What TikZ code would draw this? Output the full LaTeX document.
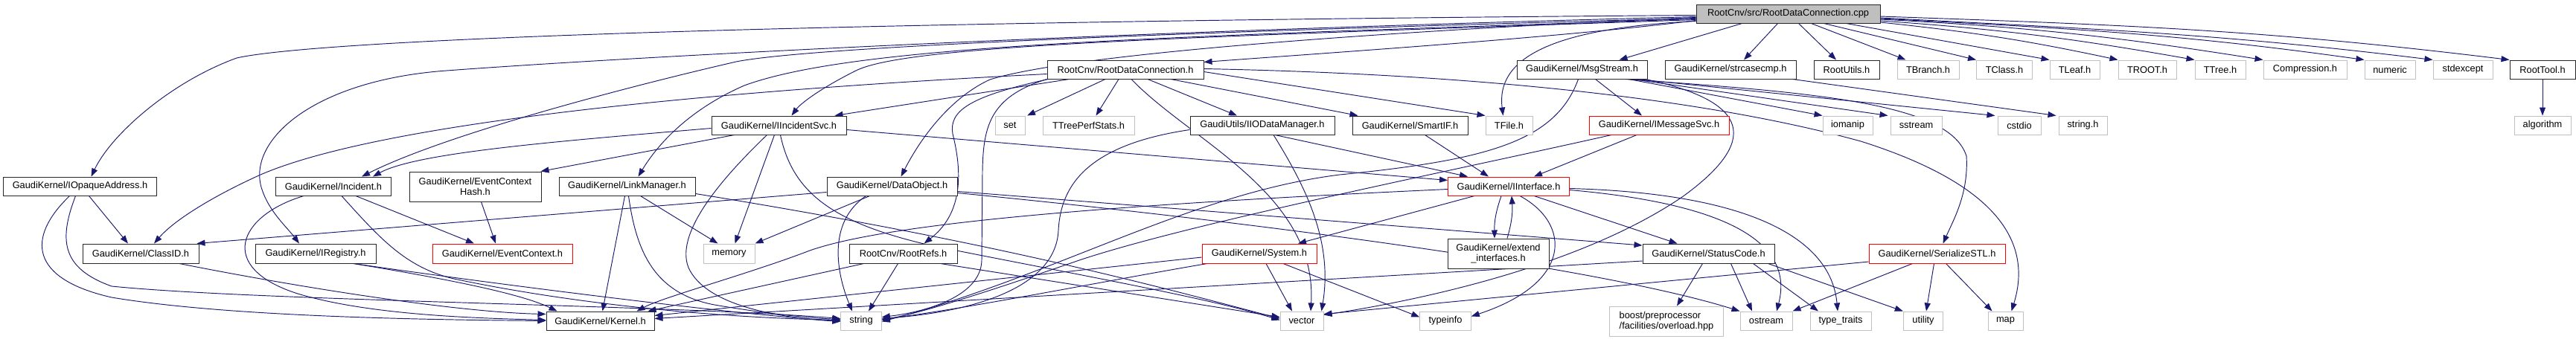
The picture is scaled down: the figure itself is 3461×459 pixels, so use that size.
\documentclass[tikz,border=0pt]{standalone}
\usepackage{fontspec}
\setmainfont{Liberation Sans}
\usetikzlibrary{arrows.meta}
\definecolor{mblue}{HTML}{191970}
\definecolor{rootgray}{HTML}{BFBFBF}
\definecolor{lgray}{HTML}{C0C0C0}
\pgfdeclarelayer{bg}
\pgfsetlayers{bg,main}
\tikzset{
  filebox/.style={draw=black!85, line width=1pt, fill=white, inner sep=0pt, align=center,
    font=\fontsize{12.8}{14.5}\selectfont, minimum height=25pt},
  sysbox/.style={filebox, draw=lgray},
  redbox/.style={filebox, draw=red},
  rootbox/.style={filebox, fill=rootgray},
  dep/.style={draw=mblue, line width=0.95pt, -{Triangle[length=11pt,width=8pt]}},
}
\begin{document}
\begin{tikzpicture}[x=1pt,y=-1pt]
\useasboundingbox (0,0) rectangle (3461,459);
% ---- row 1
\node[rootbox, minimum width=247pt] (root) at (2402.5,18.5) {RootCnv/src/RootDataConnection.cpp};
% ---- row 2
\node[filebox, minimum width=210pt] (rdc) at (1512,93.5) {RootCnv/RootDataConnection.h};
\node[filebox, minimum width=175pt] (msg) at (2125.5,93.5) {GaudiKernel/MsgStream.h};
\node[filebox, minimum width=176pt] (strc) at (2325,93.5) {GaudiKernel/strcasecmp.h};
\node[filebox, minimum width=88pt] (ru) at (2481,93.5) {RootUtils.h};
\node[sysbox, minimum width=83pt] (tbr) at (2590.5,93.5) {TBranch.h};
\node[sysbox, minimum width=75pt] (tcl) at (2693,93.5) {TClass.h};
\node[sysbox, minimum width=67pt] (tleaf) at (2787.5,93.5) {TLeaf.h};
\node[sysbox, minimum width=78pt] (troot) at (2885,93.5) {TROOT.h};
\node[sysbox, minimum width=68pt] (ttree) at (2983,93.5) {TTree.h};
\node[sysbox, minimum width=112pt] (compr) at (3097,93.5) {Compression.h};
\node[sysbox, minimum width=68pt] (numeric) at (3211,93.5) {numeric};
\node[sysbox, minimum width=80pt] (stdexc) at (3309,93.5) {stdexcept};
\node[filebox, minimum width=88pt] (rtool) at (3416,93.5) {RootTool.h};
% ---- row 3
\node[filebox, minimum width=181pt] (iis) at (1046.5,168.5) {GaudiKernel/IIncidentSvc.h};
\node[sysbox, minimum width=40pt] (set) at (1357,168.5) {set};
\node[sysbox, minimum width=123pt] (ttps) at (1462.5,168.5) {TTreePerfStats.h};
\node[filebox, minimum width=194pt] (iio) at (1696,168.5) {GaudiUtils/IIODataManager.h};
\node[filebox, minimum width=155pt] (smart) at (1894.5,168.5) {GaudiKernel/SmartIF.h};
\node[sysbox, minimum width=63pt] (tfile) at (2027.5,168.5) {TFile.h};
\node[redbox, minimum width=188pt] (imsg) at (2229,168.5) {GaudiKernel/IMessageSvc.h};
\node[sysbox, minimum width=67pt] (iomanip) at (2482.5,168.5) {iomanip};
\node[sysbox, minimum width=69pt] (sstream) at (2574.5,168.5) {sstream};
\node[sysbox, minimum width=58pt] (cstdio) at (2713,168.5) {cstdio};
\node[sysbox, minimum width=65pt] (stringh) at (2798.5,168.5) {string.h};
\node[sysbox, minimum width=76pt] (algo) at (3416,168.5) {algorithm};
% ---- row 4
\node[filebox, minimum width=206pt] (ioa) at (107.5,250.5) {GaudiKernel/IOpaqueAddress.h};
\node[filebox, minimum width=155pt] (inc) at (448,250.5) {GaudiKernel/Incident.h};
\node[filebox, minimum width=177pt, minimum height=40pt] (ech) at (638.5,251) {GaudiKernel/EventContext\\Hash.h};
\node[filebox, minimum width=183pt] (lm) at (842.5,250.5) {GaudiKernel/LinkManager.h};
\node[filebox, minimum width=175pt] (dobj) at (1198.5,250.5) {GaudiKernel/DataObject.h};
\node[redbox, minimum width=163pt] (iint) at (2027,250.5) {GaudiKernel/IInterface.h};
% ---- row 5
\node[filebox, minimum width=156pt, minimum height=26pt] (cls) at (189,341) {GaudiKernel/ClassID.h};
\node[filebox, minimum width=162pt, minimum height=26pt] (ireg) at (424,341) {GaudiKernel/IRegistry.h};
\node[redbox, minimum width=188pt, minimum height=26pt] (ectx) at (675,341) {GaudiKernel/EventContext.h};
\node[sysbox, minimum width=69pt, minimum height=26pt] (memory) at (979.5,341) {memory};
\node[filebox, minimum width=145pt, minimum height=26pt] (rrefs) at (1213.5,341) {RootCnv/RootRefs.h};
\node[redbox, minimum width=154pt, minimum height=26pt] (sys) at (1692,341) {GaudiKernel/System.h};
\node[filebox, minimum width=136pt, minimum height=40pt] (ext) at (2013,341) {GaudiKernel/extend\\\_interfaces.h};
\node[filebox, minimum width=177pt, minimum height=26pt] (stc) at (2295.5,341) {GaudiKernel/StatusCode.h};
\node[redbox, minimum width=183pt, minimum height=26pt] (ser) at (2602.5,341) {GaudiKernel/SerializeSTL.h};
% ---- row 6
\node[filebox, minimum width=145pt] (kern) at (806.5,431.5) {GaudiKernel/Kernel.h};
\node[sysbox, minimum width=54.5pt] (string) at (1157,431.5) {string};
\node[sysbox, minimum width=58pt] (vector) at (1749,431.5) {vector};
\node[sysbox, minimum width=68.5pt] (typeinfo) at (1942,431.5) {typeinfo};
\node[sysbox, minimum width=152.5pt, minimum height=40pt, align=left] (boost) at (2239,432) {boost/preprocessor\\/facilities/overload.hpp};
\node[sysbox, minimum width=70pt] (ostream) at (2373,431.5) {ostream};
\node[sysbox, minimum width=82pt] (typetr) at (2473,431.5) {type\_traits};
\node[sysbox, minimum width=53.5pt] (utility) at (2584,431.5) {utility};
\node[sysbox, minimum width=47pt] (map) at (2694.5,431.5) {map};

\begin{pgfonlayer}{bg}
% ---- root, leftwards
\draw[dep] ([yshift=-2pt]root.west) .. controls (1000,30) and (420,55) .. (318,78) .. controls (230,110) and (150,180) .. ([xshift=15pt]ioa.north);
\draw[dep] ([yshift=-4pt]root.west) .. controls (1400,45) and (800,80) .. (600,95) .. controls (420,108) and (330,190) .. (352,255) .. controls (362,285) and (385,305) .. ([xshift=-22pt]ireg.north);
\draw[dep] ([yshift=-6pt]root.west) .. controls (1500,45) and (1080,65) .. (989,83) .. controls (850,115) and (600,180) .. ([xshift=38pt]inc.north);
\draw[dep] ([yshift=-7pt]root.west) .. controls (1550,50) and (1150,60) .. (1000,115) .. controls (920,150) and (880,200) .. ([xshift=15pt]lm.north);
\draw[dep] ([yshift=-8pt]root.west) .. controls (1600,50) and (1220,60) .. (1150,95) .. controls (1100,120) and (1075,140) .. ([xshift=17pt]iis.north);
\draw[dep] ([yshift=-5pt]root.west) .. controls (1900,40) and (1450,70) .. (1330,107) .. controls (1280,130) and (1240,180) .. ([xshift=12pt]dobj.north);
\draw[dep] ([yshift=-9pt]root.west) .. controls (2100,50) and (1800,70) .. ([yshift=-3pt]rdc.north east);
\draw[dep] ([yshift=-10pt]root.west) .. controls (2080,38) and (2010,80) .. ([xshift=-8pt]tfile.north);
% ---- root, downwards
\draw[dep] ([xshift=-62pt]root.south) -- ([xshift=50pt]msg.north);
\draw[dep] ([xshift=-14pt]root.south) -- ([xshift=18pt]strc.north);
\draw[dep] ([xshift=14pt]root.south) -- ([xshift=-14pt]ru.north);
\draw[dep] ([xshift=31pt]root.south) -- ([xshift=-30pt]tbr.north);
\draw[dep] ([xshift=48pt]root.south) -- (tcl.north west);
\draw[dep] ([xshift=78pt]root.south) -- (tleaf.north west);
\draw[dep] ([yshift=-11.5pt]root.east) to[out=-6,in=168] (troot.north west);
\draw[dep] ([yshift=-9.5pt]root.east) to[out=-4,in=170] (ttree.north west);
\draw[dep] ([yshift=-7.5pt]root.east) to[out=-3,in=171] (compr.north west);
\draw[dep] ([yshift=-6.5pt]root.east) to[out=-3,in=172] (numeric.north west);
\draw[dep] ([yshift=-5.5pt]root.east) to[out=-3,in=173] (stdexc.north west);
\draw[dep] ([yshift=-3.5pt]root.east) to[out=-2,in=173] (rtool.north west);
% ---- RootDataConnection.h
\draw[dep] ([yshift=-6pt]rdc.west) .. controls (900,125) and (500,170) .. (350,235) .. controls (290,262) and (235,295) .. ([xshift=18pt]cls.north);
\draw[dep] ([xshift=30pt]rdc.south west) -- ([xshift=-16pt]iis.north east);
\draw[dep] (rdc.south west) .. controls (1330,130) and (1321,170) .. (1320,230) -- (1319,350) .. controls (1318,400) and (1240,420) .. ([yshift=5pt]string.east);
\draw[dep] ([xshift=2pt]rdc.south west) .. controls (1300,130) and (1275,150) .. (1280,180) .. controls (1295,240) and (1290,290) .. ([xshift=28pt]rrefs.north);
\draw[dep] ([xshift=-27pt]rdc.south) -- ([xshift=23pt]set.north);
\draw[dep] ([xshift=-9pt]rdc.south) -- ([xshift=10pt]ttps.north);
\draw[dep] ([xshift=30pt]rdc.south) -- ([xshift=-34pt]iio.north);
\draw[dep] ([xshift=61pt]rdc.south) -- ([xshift=-70pt]smart.north);
\draw[dep] ([xshift=8pt]rdc.south) .. controls (1600,190) and (1770,260) .. ([xshift=12pt]vector.north);
\draw[dep] ([yshift=-3pt]rdc.east) -- (tfile.north west);
\draw[dep] ([yshift=1pt]rdc.east) .. controls (2000,100) and (2300,135) .. (2500,190) .. controls (2690,250) and (2730,330) .. ([xshift=8pt]map.north);
% ---- IIncidentSvc.h
\draw[dep] ([yshift=-4pt]iis.west) .. controls (750,190) and (560,205) .. ([xshift=53pt]inc.north);
\draw[dep] ([xshift=-60pt]iis.south) -- ([xshift=-1pt]ech.north east);
\draw[dep] ([yshift=-6pt]iis.east) -- ([yshift=8pt]iint.west);
\draw[dep] ([xshift=-16pt]iis.south) .. controls (980,230) and (905,310) .. (925,360) .. controls (950,415) and (1060,428) .. ([yshift=-1pt]string.west);
\draw[dep] ([xshift=-6pt]iis.south) -- ([xshift=8pt]memory.north);
\draw[dep] ([xshift=2pt]iis.south) .. controls (1065,260) and (1120,300) .. (1250,330) .. controls (1450,370) and (1620,400) .. ([yshift=1pt]vector.west);
% ---- Incident.h, EventContextHash.h
\draw[dep] ([xshift=-40pt]inc.south) .. controls (320,290) and (290,360) .. (400,395) .. controls (500,425) and (650,428) .. ([yshift=1pt]kern.west);
\draw[dep] ([xshift=11pt]inc.south) .. controls (510,320) and (545,360) .. (610,375) .. controls (800,415) and (1000,428) .. ([yshift=1pt]string.west);
\draw[dep] ([xshift=30pt]inc.south) -- ([xshift=-38pt]ectx.north);
\draw[dep] ([xshift=8pt]ech.south) -- ([xshift=-9pt]ectx.north);
% ---- IOpaqueAddress.h, ClassID.h, IRegistry.h
\draw[dep] ([xshift=12pt]ioa.south) -- ([xshift=-17pt]cls.north);
\draw[dep] ([xshift=-14pt]ioa.south) .. controls (35,320) and (40,375) .. (150,400) .. controls (300,425) and (550,430) .. (kern.west);
\draw[dep] ([xshift=-6pt]ioa.south) .. controls (80,320) and (80,360) .. (150,385) .. controls (350,405) and (900,410) .. ([yshift=3pt]string.west);
\draw[dep] ([xshift=52pt]cls.south) .. controls (420,390) and (620,420) .. ([yshift=9pt]kern.west);
\draw[dep] ([xshift=51pt]ireg.south) .. controls (600,375) and (700,395) .. ([xshift=-58pt]kern.north);
\draw[dep] ([xshift=51pt]ireg.south) .. controls (650,380) and (1000,425) .. (string.west);
% ---- LinkManager.h
\draw[dep] ([xshift=-3pt]lm.south) -- ([xshift=3pt]kern.north);
\draw[dep] ([xshift=2pt]lm.south) .. controls (855,340) and (880,395) .. (960,410) .. controls (1030,422) and (1090,428) .. ([yshift=2pt]string.west);
\draw[dep] ([xshift=18pt]lm.south) -- ([xshift=-15pt]memory.north);
\draw[dep] ([yshift=-10pt]lm.east) .. controls (1300,320) and (1500,370) .. ([yshift=3pt]vector.west);
% ---- DataObject.h
\draw[dep] ([yshift=-8pt]dobj.west) -- ([xshift=-3pt]cls.north east);
\draw[dep] ([xshift=-30pt]dobj.south) -- (memory.north east);
\draw[dep] ([xshift=-35pt]dobj.south) .. controls (1110,300) and (1125,370) .. ([xshift=-12pt]string.north);
\draw[dep] ([yshift=-7pt]dobj.east) -- ([yshift=11pt]stc.west);
\draw[dep] ([yshift=-9pt]dobj.east) .. controls (1700,300) and (2150,360) .. (ostream.north west);
% ---- RootRefs.h
\draw[dep] ([xshift=-53pt]rrefs.south) -- ([xshift=64pt]kern.north);
\draw[dep] ([xshift=-7pt]rrefs.south) -- ([xshift=10pt]string.north);
\draw[dep] ([xshift=50pt]rrefs.south) -- ([yshift=5pt]vector.west);
% ---- IIODataManager.h, SmartIF.h
\draw[dep] ([yshift=-6pt]iio.west) .. controls (1460,195) and (1425,250) .. (1422,310) .. controls (1418,390) and (1300,420) .. ([yshift=3pt]string.east);
\draw[dep] ([xshift=17pt]iio.south) -- ([xshift=-55pt]iint.north);
\draw[dep] ([xshift=15pt]iio.south) .. controls (1760,260) and (1790,330) .. ([xshift=-3pt]vector.north east);
\draw[dep] ([xshift=20pt]smart.south) -- ([xshift=-27pt]iint.north);
% ---- IMessageSvc.h, MsgStream.h, strcasecmp.h, RootTool.h
\draw[dep] ([xshift=-30pt]imsg.south) -- ([xshift=34pt]iint.north);
\draw[dep] ([xshift=-64pt]imsg.south) .. controls (1950,230) and (1600,300) .. (1450,350) .. controls (1320,395) and (1240,420) .. ([yshift=1pt]string.east);
\draw[dep] ([xshift=18pt]msg.south) -- ([xshift=-23pt]imsg.north);
\draw[dep] ([xshift=-5pt]msg.south) .. controls (2090,190) and (2000,215) .. (1800,235) .. controls (1600,260) and (1420,370) .. ([yshift=-1pt]string.east);
\draw[dep] ([xshift=-25pt]msg.south east) -- (iomanip.north west);
\draw[dep] ([xshift=-20pt]msg.south east) -- ([xshift=-3pt]sstream.north west);
\draw[dep] ([xshift=-15pt]msg.south east) -- ([xshift=-3pt]cstdio.north west);
\draw[dep] ([xshift=-30pt]msg.south east) .. controls (2450,125) and (2620,140) .. (2642,210) .. controls (2645,260) and (2625,295) .. ([xshift=8pt]ser.north);
\draw[dep] ([xshift=-3pt]msg.south east) .. controls (2370,140) and (2350,200) .. (2260,265) .. controls (2120,360) and (1900,405) .. ([yshift=8pt]vector.east);
\draw[dep] ([xshift=-5pt]strc.south east) -- ([xshift=-3pt]stringh.north west);
\draw[dep] (rtool) -- (algo);
% ---- IInterface.h, extend_interfaces.h
\draw[dep] ([xshift=-46pt]iint.south) -- ([xshift=52pt]sys.north);
\draw[dep] ([xshift=-10pt]iint.south) to[bend right=10] ([xshift=-5pt]ext.north);
\draw[dep] ([xshift=12pt]ext.north) to[bend right=10] ([xshift=4pt]iint.south);
\draw[dep] ([xshift=15pt]iint.south) .. controls (2110,300) and (2115,380) .. ([yshift=6pt]typeinfo.east);
\draw[dep] ([xshift=34pt]iint.south) -- ([xshift=-42pt]stc.north);
\draw[dep] ([yshift=-5pt]iint.east) .. controls (2330,275) and (2410,330) .. ([xshift=14pt]ostream.north);
\draw[dep] ([yshift=-3pt]iint.east) .. controls (2350,260) and (2460,320) .. ([xshift=-4pt]typetr.north);
\draw[dep] ([yshift=-4pt]iint.west) .. controls (1500,275) and (1180,300) .. (1080,340) .. controls (1000,370) and (890,400) .. ([xshift=49pt]kern.north);
% ---- System.h
\draw[dep] ([yshift=-5pt]sys.west) -- ([yshift=7pt]kern.east);
\draw[dep] ([xshift=-70pt]sys.south) .. controls (1500,375) and (1300,415) .. ([yshift=2pt]string.east);
\draw[dep] ([xshift=9pt]sys.south) -- ([xshift=-13pt]vector.north);
\draw[dep] ([xshift=32pt]sys.south) -- ([yshift=5pt]typeinfo.west);
% ---- StatusCode.h
\draw[dep] ([xshift=-8pt]stc.south) -- ([xshift=14pt]boost.north);
\draw[dep] ([xshift=30pt]stc.south) -- ([xshift=-19pt]ostream.north);
\draw[dep] ([xshift=60pt]stc.south) -- ([xshift=-30pt]typetr.north);
\draw[dep] ([xshift=80pt]stc.south) -- (utility.north west);
\draw[dep] ([yshift=-10pt]stc.west) -- ([yshift=3pt]kern.east);
% ---- SerializeSTL.h
\draw[dep] ([xshift=-33pt]ser.south) -- (ostream.north east);
\draw[dep] ([xshift=-4pt]ser.south) -- ([xshift=4pt]utility.north);
\draw[dep] ([xshift=12pt]ser.south) -- ([xshift=-18pt]map.north);
\draw[dep] ([yshift=-11pt]ser.west) -- ([yshift=9pt]vector.east);
\end{pgfonlayer}
\end{tikzpicture}
\end{document}
